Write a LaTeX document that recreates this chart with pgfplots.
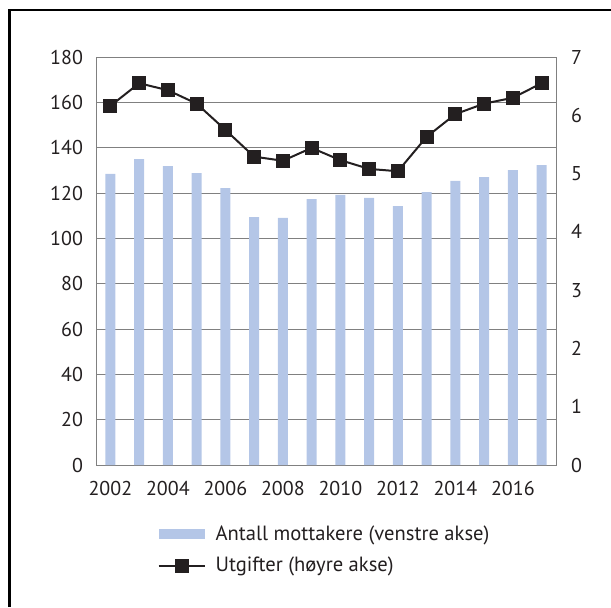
\documentclass[border=0pt]{standalone}
\usepackage{fontspec}
\setmainfont{PT Sans}
\usepackage{pgfplots}
\pgfplotsset{compat=1.18}
\definecolor{barblue}{HTML}{B4C6E7}
\definecolor{ink}{HTML}{231F20}
\definecolor{gridgray}{HTML}{808080}

\pgfplotstableread{
year mottakere utgifter
2002 128.4 6.16
2003 135.0 6.55
2004 131.9 6.43
2005 128.8 6.20
2006 122.2 5.75
2007 109.4 5.29
2008 109.0 5.22
2009 117.3 5.44
2010 119.2 5.23
2011 117.8 5.08
2012 114.2 5.04
2013 120.4 5.63
2014 125.3 6.02
2015 127.0 6.20
2016 130.1 6.30
2017 132.3 6.55
}\datatable

\begin{document}
\fontsize{10}{12}\selectfont
\begin{tikzpicture}
\path[use as bounding box] (0,0) rectangle (305.5pt,303.5pt);
\draw[line width=1.3pt,black] (4.6pt,0pt) -- (4.6pt,298.5pt) -- (305.5pt,298.5pt);
\pgfplotsset{
  base/.style={
    at={(48pt,71pt)}, anchor=south west,
    scale only axis, width=230pt, height=204pt,
    xmin=2001.5, xmax=2017.5,
    tick style={draw=none},
    ticklabel style={font=\fontsize{10}{12}\selectfont, text=ink},
    /pgf/number format/assume math mode=true,
    /pgf/number format/set thousands separator={},
  }
}
\begin{axis}[base,
  ymin=0, ymax=180, ytick={0,20,...,180},
  xtick={2002,2004,...,2016},
  ymajorgrids, grid style={gridgray, line width=0.5pt},
  axis line style={gridgray, line width=0.5pt},
  yticklabel style={xshift=-3pt},
  xticklabel style={yshift=-4.5pt},
]
\addplot[ybar, bar width=5pt, fill=barblue, draw=none] table[x=year,y=mottakere]{\datatable};
\end{axis}
\begin{axis}[base,
  ymin=0, ymax=7, ytick={0,1,...,7},
  axis x line=none, axis y line*=right,
  axis line style={draw=none},
  yticklabel style={xshift=4pt},
  legend style={at={(0.12,-0.128)}, anchor=north west, draw=none, fill=none,
    font=\fontsize{10.3}{12}\selectfont, text=ink, row sep=2.7pt},
  legend cell align=left,
]
\addlegendimage{legend image code/.code={\path[draw=none,fill=none] (0pt,0pt) -- (26.5pt,0pt); \fill[barblue,draw=none] (0pt,-2.5pt) rectangle (23pt,2.5pt);}}
\addlegendentry{Antall mottakere (venstre akse)}
\addplot[ink, line width=1pt, mark=square*, mark size=3pt,
  legend image code/.code={\path[draw=none,fill=none] (0pt,0pt) -- (26.5pt,0pt); \draw[ink,line width=1pt] (0pt,0pt) -- (23pt,0pt); \fill[ink] (8.5pt,-3pt) rectangle (14.5pt,3pt);}]
  table[x=year,y=utgifter]{\datatable};
\addlegendentry{Utgifter (høyre akse)}
\end{axis}
\end{tikzpicture}
\end{document}
